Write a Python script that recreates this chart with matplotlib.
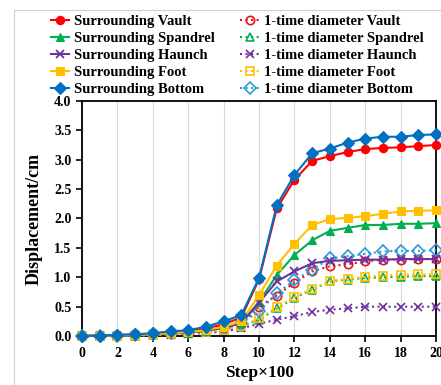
import numpy as np
import matplotlib
matplotlib.use("Agg")
import matplotlib.pyplot as plt
from matplotlib.patches import Rectangle

plt.rcParams['font.family'] = ['Liberation Serif', 'DejaVu Serif']
plt.rcParams['font.weight'] = 'bold'

steps = list(range(21))

sur_vault = [0, 0.01, 0.02, 0.03, 0.04, 0.07, 0.09, 0.13, 0.2, 0.32, 0.97, 2.17, 2.66, 2.98, 3.06, 3.13, 3.18, 3.2, 3.21, 3.23, 3.25]
sur_spandrel = [0, 0.01, 0.01, 0.02, 0.03, 0.05, 0.06, 0.09, 0.15, 0.23, 0.58, 1.04, 1.38, 1.63, 1.79, 1.84, 1.89, 1.89, 1.91, 1.91, 1.92]
sur_haunch = [0, 0.01, 0.01, 0.02, 0.03, 0.04, 0.06, 0.09, 0.14, 0.22, 0.57, 0.93, 1.1, 1.24, 1.28, 1.29, 1.3, 1.3, 1.31, 1.31, 1.31]
sur_foot = [0, 0.01, 0.01, 0.02, 0.03, 0.05, 0.07, 0.1, 0.16, 0.25, 0.7, 1.2, 1.57, 1.89, 1.99, 2.01, 2.04, 2.08, 2.12, 2.13, 2.14]
sur_bottom = [0, 0.01, 0.02, 0.03, 0.05, 0.08, 0.1, 0.16, 0.25, 0.36, 0.99, 2.23, 2.74, 3.11, 3.19, 3.29, 3.36, 3.39, 3.39, 3.42, 3.43]

one_vault = [0, 0, 0.01, 0.02, 0.03, 0.04, 0.06, 0.08, 0.13, 0.2, 0.5, 0.69, 0.91, 1.1, 1.19, 1.22, 1.27, 1.3, 1.3, 1.31, 1.31]
one_spandrel = [0, 0, 0.01, 0.01, 0.02, 0.03, 0.05, 0.07, 0.1, 0.16, 0.28, 0.47, 0.65, 0.79, 0.93, 0.96, 0.99, 1.0, 1.01, 1.02, 1.02]
one_haunch = [0, 0, 0.01, 0.01, 0.02, 0.02, 0.04, 0.05, 0.08, 0.13, 0.21, 0.28, 0.34, 0.41, 0.45, 0.47, 0.5, 0.5, 0.5, 0.5, 0.5]
one_foot = [0, 0, 0.01, 0.01, 0.02, 0.03, 0.05, 0.07, 0.11, 0.17, 0.3, 0.49, 0.67, 0.8, 0.94, 0.97, 1.01, 1.03, 1.04, 1.05, 1.05]
one_bottom = [0, 0.01, 0.01, 0.02, 0.03, 0.05, 0.07, 0.1, 0.15, 0.22, 0.42, 0.73, 0.95, 1.13, 1.32, 1.36, 1.4, 1.44, 1.45, 1.45, 1.46]

names = ['Vault', 'Spandrel', 'Haunch', 'Foot', 'Bottom']
sur_series = [sur_vault, sur_spandrel, sur_haunch, sur_foot, sur_bottom]
one_series = [one_vault, one_spandrel, one_haunch, one_foot, one_bottom]
colors = ['#FF0000', '#00B050', '#7030A0', '#FFC000', '#0070C0']
one_colors = ['#E8141C', '#00B050', '#7030A0', '#FFC000', '#2E9BD6']
markers = ['o', '^', 'x', 's', 'D']

fig = plt.figure(figsize=(4.41, 3.85), dpi=100)
ax = fig.add_axes([0.186, 0.127, 0.803, 0.611])

# chart area border
fig.patches.append(Rectangle((0.032, -0.01), 1.0, 0.985, transform=fig.transFigure,
                             fill=False, edgecolor='#D0D0D0', linewidth=0.8))

for i in range(5):
    ax.plot(steps, sur_series[i], color=colors[i], marker=markers[i], markersize=6,
            markeredgewidth=1.3 if markers[i] == 'x' else 0.8, markeredgecolor=colors[i],
            linewidth=1.5, label='Surrounding ' + names[i], clip_on=False, zorder=4 + i * 0.1)
for i in range(5):
    ax.plot(steps, one_series[i], color=one_colors[i], marker=markers[i], markersize=6,
            markerfacecolor='none' if markers[i] != 'x' else one_colors[i],
            markeredgewidth=1.2, linestyle=':', linewidth=1.5,
            label='1-time diameter ' + names[i], clip_on=False, zorder=3)

ax.set_xlim(0, 20)
ax.set_ylim(0, 4)
ax.set_xticks(range(0, 21, 2))
ax.set_yticks(np.arange(0, 4.01, 0.5))
ax.yaxis.set_major_formatter(matplotlib.ticker.FormatStrFormatter('%.1f'))
ax.grid(axis='x', color='#D9D9D9', linewidth=0.8)
ax.set_axisbelow(True)
for sp in ax.spines.values():
    sp.set_linewidth(1.3)
ax.tick_params(direction='out', length=4, width=1.2, labelsize=10)
for lab in ax.get_xticklabels() + ax.get_yticklabels():
    lab.set_fontweight('bold')

ax.set_xlabel('Step×100', fontsize=12.5, fontweight='bold', labelpad=4)
ax.set_ylabel('Displacement/cm', fontsize=13, fontweight='bold', labelpad=8)

fig.legend(loc='upper left', bbox_to_anchor=(0.115, 0.962), ncol=2, frameon=False,
           prop={'weight': 'bold', 'size': 10.5}, handlelength=1.25, handletextpad=0.35,
           columnspacing=1.75, labelspacing=0.27, borderaxespad=0, borderpad=0)

fig.savefig('out.png', dpi=100)
